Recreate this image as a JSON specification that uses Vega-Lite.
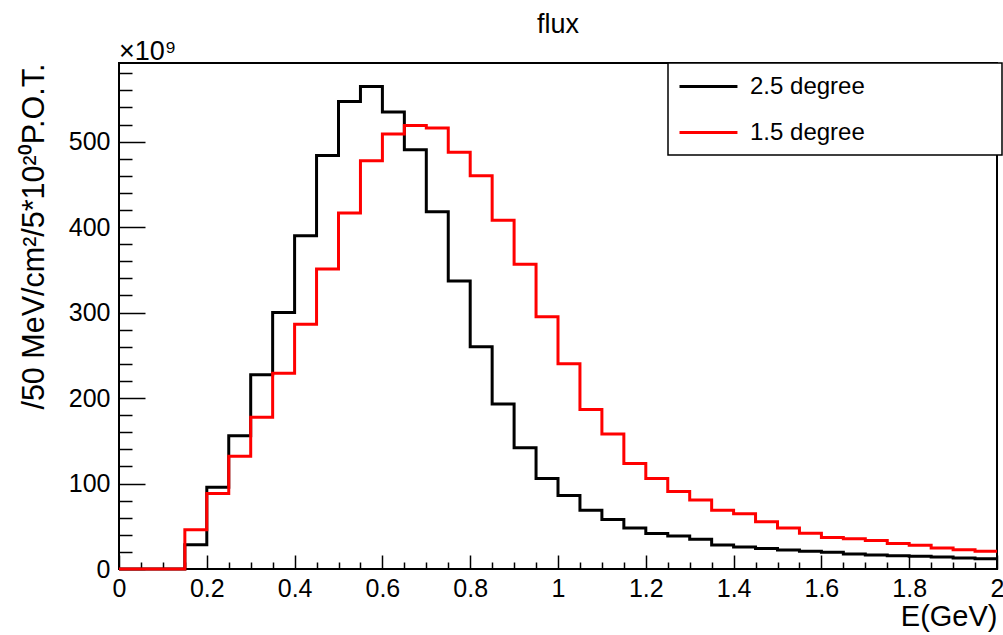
{
  "$schema": "https://vega.github.io/schema/vega-lite/v6.json",
  "autosize": {"type": "none"},
  "width": 878,
  "height": 506,
  "padding": {"left": 119, "top": 63, "right": 6, "bottom": 66},
  "config": {
    "font": "Liberation Sans",
    "view": {"stroke": "black", "strokeWidth": 2},
    "axis": {"domain": false, "grid": false, "tickColor": "black", "tickWidth": 1.5, "labelColor": "black", "titleColor": "black", "labelFont": "Liberation Sans", "titleFont": "Liberation Sans", "titleFontWeight": "normal", "labelOverlap": false, "labelFlush": false}
  },
  "title": {"text": "flux", "anchor": "middle", "frame": "group", "fontSize": 27, "fontWeight": "normal", "font": "Liberation Sans", "color": "black", "baseline": "alphabetic", "offset": 6, "dy": 28},
  "datasets": {
    "flux": [
      {"deg": "2.5 degree", "lo": 0.0, "hi": 0.05, "v": 0},
      {"deg": "2.5 degree", "lo": 0.05, "hi": 0.1, "v": 0},
      {"deg": "2.5 degree", "lo": 0.1, "hi": 0.15, "v": 0},
      {"deg": "2.5 degree", "lo": 0.15, "hi": 0.2, "v": 28.5},
      {"deg": "2.5 degree", "lo": 0.2, "hi": 0.25, "v": 95.7},
      {"deg": "2.5 degree", "lo": 0.25, "hi": 0.3, "v": 156},
      {"deg": "2.5 degree", "lo": 0.3, "hi": 0.35, "v": 227.4},
      {"deg": "2.5 degree", "lo": 0.35, "hi": 0.4, "v": 300},
      {"deg": "2.5 degree", "lo": 0.4, "hi": 0.45, "v": 390},
      {"deg": "2.5 degree", "lo": 0.45, "hi": 0.5, "v": 483.7},
      {"deg": "2.5 degree", "lo": 0.5, "hi": 0.55, "v": 547},
      {"deg": "2.5 degree", "lo": 0.55, "hi": 0.6, "v": 564.6},
      {"deg": "2.5 degree", "lo": 0.6, "hi": 0.65, "v": 534.6},
      {"deg": "2.5 degree", "lo": 0.65, "hi": 0.7, "v": 490.4},
      {"deg": "2.5 degree", "lo": 0.7, "hi": 0.75, "v": 418},
      {"deg": "2.5 degree", "lo": 0.75, "hi": 0.8, "v": 337},
      {"deg": "2.5 degree", "lo": 0.8, "hi": 0.85, "v": 260},
      {"deg": "2.5 degree", "lo": 0.85, "hi": 0.9, "v": 193},
      {"deg": "2.5 degree", "lo": 0.9, "hi": 0.95, "v": 142},
      {"deg": "2.5 degree", "lo": 0.95, "hi": 1.0, "v": 106},
      {"deg": "2.5 degree", "lo": 1.0, "hi": 1.05, "v": 86},
      {"deg": "2.5 degree", "lo": 1.05, "hi": 1.1, "v": 68.7},
      {"deg": "2.5 degree", "lo": 1.1, "hi": 1.15, "v": 58},
      {"deg": "2.5 degree", "lo": 1.15, "hi": 1.2, "v": 48},
      {"deg": "2.5 degree", "lo": 1.2, "hi": 1.25, "v": 41.4},
      {"deg": "2.5 degree", "lo": 1.25, "hi": 1.3, "v": 38.6},
      {"deg": "2.5 degree", "lo": 1.3, "hi": 1.35, "v": 34.7},
      {"deg": "2.5 degree", "lo": 1.35, "hi": 1.4, "v": 28},
      {"deg": "2.5 degree", "lo": 1.4, "hi": 1.45, "v": 25.8},
      {"deg": "2.5 degree", "lo": 1.45, "hi": 1.5, "v": 24},
      {"deg": "2.5 degree", "lo": 1.5, "hi": 1.55, "v": 22.2},
      {"deg": "2.5 degree", "lo": 1.55, "hi": 1.6, "v": 20.7},
      {"deg": "2.5 degree", "lo": 1.6, "hi": 1.65, "v": 19.5},
      {"deg": "2.5 degree", "lo": 1.65, "hi": 1.7, "v": 17.5},
      {"deg": "2.5 degree", "lo": 1.7, "hi": 1.75, "v": 16.4},
      {"deg": "2.5 degree", "lo": 1.75, "hi": 1.8, "v": 15.6},
      {"deg": "2.5 degree", "lo": 1.8, "hi": 1.85, "v": 14.8},
      {"deg": "2.5 degree", "lo": 1.85, "hi": 1.9, "v": 14},
      {"deg": "2.5 degree", "lo": 1.9, "hi": 1.95, "v": 12.9},
      {"deg": "2.5 degree", "lo": 1.95, "hi": 2.0, "v": 12.1},
      {"deg": "1.5 degree", "lo": 0.0, "hi": 0.05, "v": 0},
      {"deg": "1.5 degree", "lo": 0.05, "hi": 0.1, "v": 0},
      {"deg": "1.5 degree", "lo": 0.1, "hi": 0.15, "v": 0},
      {"deg": "1.5 degree", "lo": 0.15, "hi": 0.2, "v": 46},
      {"deg": "1.5 degree", "lo": 0.2, "hi": 0.25, "v": 88.3},
      {"deg": "1.5 degree", "lo": 0.25, "hi": 0.3, "v": 132},
      {"deg": "1.5 degree", "lo": 0.3, "hi": 0.35, "v": 177.4},
      {"deg": "1.5 degree", "lo": 0.35, "hi": 0.4, "v": 229},
      {"deg": "1.5 degree", "lo": 0.4, "hi": 0.45, "v": 286.4},
      {"deg": "1.5 degree", "lo": 0.45, "hi": 0.5, "v": 351},
      {"deg": "1.5 degree", "lo": 0.5, "hi": 0.55, "v": 416.5},
      {"deg": "1.5 degree", "lo": 0.55, "hi": 0.6, "v": 477.5},
      {"deg": "1.5 degree", "lo": 0.6, "hi": 0.65, "v": 508.8},
      {"deg": "1.5 degree", "lo": 0.65, "hi": 0.7, "v": 519},
      {"deg": "1.5 degree", "lo": 0.7, "hi": 0.75, "v": 516},
      {"deg": "1.5 degree", "lo": 0.75, "hi": 0.8, "v": 487.7},
      {"deg": "1.5 degree", "lo": 0.8, "hi": 0.85, "v": 460},
      {"deg": "1.5 degree", "lo": 0.85, "hi": 0.9, "v": 408},
      {"deg": "1.5 degree", "lo": 0.9, "hi": 0.95, "v": 356.4},
      {"deg": "1.5 degree", "lo": 0.95, "hi": 1.0, "v": 295},
      {"deg": "1.5 degree", "lo": 1.0, "hi": 1.05, "v": 240},
      {"deg": "1.5 degree", "lo": 1.05, "hi": 1.1, "v": 186.7},
      {"deg": "1.5 degree", "lo": 1.1, "hi": 1.15, "v": 157.8},
      {"deg": "1.5 degree", "lo": 1.15, "hi": 1.2, "v": 123.4},
      {"deg": "1.5 degree", "lo": 1.2, "hi": 1.25, "v": 105.9},
      {"deg": "1.5 degree", "lo": 1.25, "hi": 1.3, "v": 90.6},
      {"deg": "1.5 degree", "lo": 1.3, "hi": 1.35, "v": 80.8},
      {"deg": "1.5 degree", "lo": 1.35, "hi": 1.4, "v": 68.7},
      {"deg": "1.5 degree", "lo": 1.4, "hi": 1.45, "v": 64.5},
      {"deg": "1.5 degree", "lo": 1.45, "hi": 1.5, "v": 55.4},
      {"deg": "1.5 degree", "lo": 1.5, "hi": 1.55, "v": 48},
      {"deg": "1.5 degree", "lo": 1.55, "hi": 1.6, "v": 41.8},
      {"deg": "1.5 degree", "lo": 1.6, "hi": 1.65, "v": 37},
      {"deg": "1.5 degree", "lo": 1.65, "hi": 1.7, "v": 35.5},
      {"deg": "1.5 degree", "lo": 1.7, "hi": 1.75, "v": 33.2},
      {"deg": "1.5 degree", "lo": 1.75, "hi": 1.8, "v": 29.7},
      {"deg": "1.5 degree", "lo": 1.8, "hi": 1.85, "v": 27.7},
      {"deg": "1.5 degree", "lo": 1.85, "hi": 1.9, "v": 24.6},
      {"deg": "1.5 degree", "lo": 1.9, "hi": 1.95, "v": 22.6},
      {"deg": "1.5 degree", "lo": 1.95, "hi": 2.0, "v": 20.7}
    ]
  },
  "resolve": {"axis": {"x": "independent", "y": "independent"}},
  "layer": [
    {
      "data": {"name": "flux"},
      "transform": [
        {"filter": "datum.deg === '2.5 degree'"},
        {"fold": ["lo", "hi"], "as": ["edge", "x"]}
      ],
      "mark": {"type": "line", "strokeWidth": 3, "interpolate": "linear"},
      "encoding": {
        "x": {"field": "x", "type": "quantitative", "scale": {"domain": [0, 2], "nice": false, "zero": false},
          "axis": {"orient": "bottom", "values": [0, 0.2, 0.4, 0.6, 0.8, 1, 1.2, 1.4, 1.6, 1.8, 2], "tickSize": -14, "labelPadding": 21, "labelFontSize": 25, "format": "~g",
            "title": "E(GeV)", "titleFontSize": 29, "titleAnchor": "end", "titleAlign": "right", "titleBaseline": "alphabetic", "titleX": 878, "titleY": 56}},
        "y": {"field": "v", "type": "quantitative", "scale": {"domain": [0, 592], "nice": false, "zero": true},
          "axis": {"orient": "left", "values": [0, 100, 200, 300, 400, 500], "tickSize": -26, "labelPadding": 35, "labelFontSize": 25, "labelBaseline": "middle",
            "title": "/50 MeV/cm²/5*10²⁰P.O.T.", "titleFontSize": 30.5, "titleAngle": -90, "titleAlign": "right", "titleBaseline": "alphabetic", "titleX": -76, "titleY": 0}},
        "color": {"field": "deg", "type": "nominal", "scale": {"domain": ["2.5 degree", "1.5 degree"], "range": ["#000000", "#ff0000"]},
          "legend": {"title": null, "orient": "none", "legendX": 549, "legendY": 0, "strokeColor": "black", "fillColor": "white", "padding": 10,
            "symbolType": "M-1,0L3.83,0", "symbolSize": 576, "symbolStrokeWidth": 3, "symbolFillColor": "transparent",
            "labelFontSize": 24, "labelOffset": 45, "rowPadding": 20, "labelColor": "black", "labelLimit": 400,
            "labelExpr": "datum.label + '\u00a0\u00a0\u00a0\u00a0\u00a0\u00a0\u00a0\u00a0\u00a0\u00a0\u00a0\u00a0\u00a0\u00a0\u00a0\u00a0\u00a0\u00a0\u00a0\u200b'",
            "encode": {"legend": {"update": {"strokeWidth": {"value": 1.5}}}}}},
        "order": [{"field": "x", "type": "quantitative"}, {"field": "edge", "type": "ordinal"}]
      }
    },
    {
      "data": {"name": "flux"},
      "transform": [
        {"filter": "datum.deg === '1.5 degree'"},
        {"fold": ["lo", "hi"], "as": ["edge", "x"]}
      ],
      "mark": {"type": "line", "strokeWidth": 3, "interpolate": "linear"},
      "encoding": {
        "x": {"field": "x", "type": "quantitative", "scale": {"domain": [0, 2], "nice": false, "zero": false},
          "axis": {"orient": "bottom", "values": [0.05, 0.1, 0.15, 0.25, 0.3, 0.35, 0.45, 0.5, 0.55, 0.65, 0.7, 0.75, 0.85, 0.9, 0.95, 1.05, 1.1, 1.15, 1.25, 1.3, 1.35, 1.45, 1.5, 1.55, 1.65, 1.7, 1.75, 1.85, 1.9, 1.95], "tickSize": -7, "labels": false, "title": null}},
        "y": {"field": "v", "type": "quantitative", "scale": {"domain": [0, 592], "nice": false, "zero": true},
          "axis": {"orient": "left", "values": [20, 40, 60, 80, 120, 140, 160, 180, 220, 240, 260, 280, 320, 340, 360, 380, 420, 440, 460, 480, 520, 540, 560, 580], "tickSize": -13, "labels": false, "title": null}},
        "color": {"field": "deg", "type": "nominal", "scale": {"domain": ["2.5 degree", "1.5 degree"], "range": ["#000000", "#ff0000"]}},
        "order": [{"field": "x", "type": "quantitative"}, {"field": "edge", "type": "ordinal"}]
      }
    },
    {
      "data": {"values": [{"t": "×10⁹"}]},
      "mark": {"type": "text", "align": "left", "baseline": "alphabetic", "fontSize": 27, "dy": -3, "color": "black"},
      "encoding": {
        "x": {"datum": 0, "type": "quantitative", "axis": null},
        "y": {"datum": 592, "type": "quantitative", "axis": null},
        "text": {"field": "t", "type": "nominal"}
      }
    }
  ]
}
